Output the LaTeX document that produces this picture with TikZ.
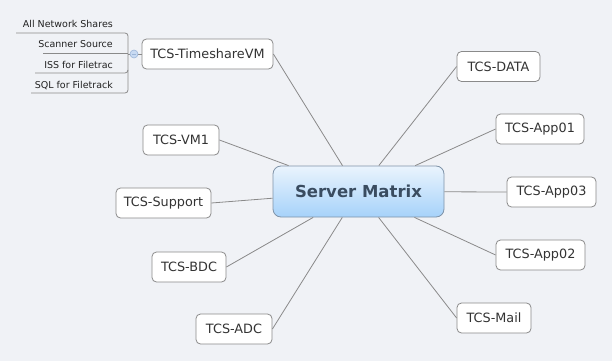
\documentclass[tikz,border=0pt]{standalone}
\usepackage{fontspec}
\setmainfont{DejaVu Sans}
\definecolor{bg}{HTML}{F0F2F6}
\definecolor{linegray}{HTML}{8A8A8A}
\definecolor{leaftext}{HTML}{333333}
\definecolor{subtext}{HTML}{222222}
\definecolor{cborder}{HTML}{7F93A8}
\definecolor{ctop}{HTML}{EAF4FD}
\definecolor{cbot}{HTML}{A6D2FA}
\definecolor{ctext}{HTML}{3A4C60}
\definecolor{knobfill}{HTML}{C8DAF2}
\definecolor{knobdraw}{HTML}{9DB6D8}
\begin{document}
\begin{tikzpicture}[x=1pt,y=-1pt,
  leaf/.style={draw=linegray, line width=0.8pt, rounded corners=4.5pt, fill=white,
    text=leaftext, font=\fontsize{12.8}{14}\selectfont, minimum height=30pt, inner xsep=0pt},
  conn/.style={draw=linegray, line width=0.8pt},
  subline/.style={draw=linegray, line width=0.8pt},
  sublabel/.style={anchor=base east, font=\fontsize{9.5}{11}\selectfont, text=subtext, inner sep=0pt}
]
\fill[bg] (0,0) rectangle (612,361);
\useasboundingbox (0,0) rectangle (612,361);

% central topic
\node[draw=cborder, line width=0.8pt, rounded corners=8pt, top color=ctop, bottom color=cbot,
  minimum width=171pt, minimum height=51pt, text=ctext,
  font=\bfseries\fontsize{16.5}{18}\selectfont] (c) at (358.5,191.5) {Server Matrix};

% main topics
\node[leaf, minimum width=131pt] (tvm) at (207.5,54) {TCS-TimeshareVM};
\node[leaf, minimum width=76pt]  (vm1) at (181,140) {TCS-VM1};
\node[leaf, minimum width=95pt]  (sup) at (163.5,203) {TCS-Support};
\node[leaf, minimum width=74pt]  (bdc) at (189,267) {TCS-BDC};
\node[leaf, minimum width=76pt]  (adc) at (234,329) {TCS-ADC};
\node[leaf, minimum width=83pt]  (data) at (498.5,66.5) {TCS-DATA};
\node[leaf, minimum width=88pt]  (app01) at (540,129) {TCS-App01};
\node[leaf, minimum width=89pt]  (app03) at (551.5,192) {TCS-App03};
\node[leaf, minimum width=89pt]  (app02) at (540.5,255) {TCS-App02};
\node[leaf, minimum width=74pt]  (mail) at (494,318) {TCS-Mail};

% connectors
\draw[conn] (c) -- (tvm.east);
\draw[conn] (c) -- (vm1.east);
\draw[conn] (c) -- (sup.east);
\draw[conn] (c) -- (bdc.east);
\draw[conn] (c) -- (adc.east);
\draw[conn] (c) -- (data.west);
\draw[conn] (c) -- (app01.west);
\draw[conn] (c) -- (app03.west);
\draw[conn] (c) -- (app02.west);
\draw[conn] (c) -- (mail.west);

% subtopics of TCS-TimeshareVM
\node[sublabel] (s1) at (113,28) {All Network Shares};
\node[sublabel] (s2) at (113,48) {Scanner Source};
\node[sublabel] (s3) at (113,68) {ISS for Filetrac};
\node[sublabel] (s4) at (113,88) {SQL for Filetrack};

\coordinate (u1) at (16,33);
\coordinate (u2) at (43,53);
\coordinate (u3) at (35,73);
\coordinate (u4) at (31,93);
\coordinate (spine) at (128,54);
\draw[subline, rounded corners=3pt] (u1) -- (128,33) -- (128,93) -- (u4);
\draw[subline] (u2) -- (128,53);
\draw[subline, rounded corners=3pt] (u3) -- (128,73) -- (128,70);
\draw[subline] (spine) -- (tvm.west);
\node[circle, draw=knobdraw, fill=knobfill, line width=0.6pt, minimum size=8pt, inner sep=0pt] (knob) at (134,54) {};
\draw[knobdraw, line width=0.8pt] ([xshift=-2.2pt]knob.center) -- ([xshift=2.2pt]knob.center);
\end{tikzpicture}
\end{document}
